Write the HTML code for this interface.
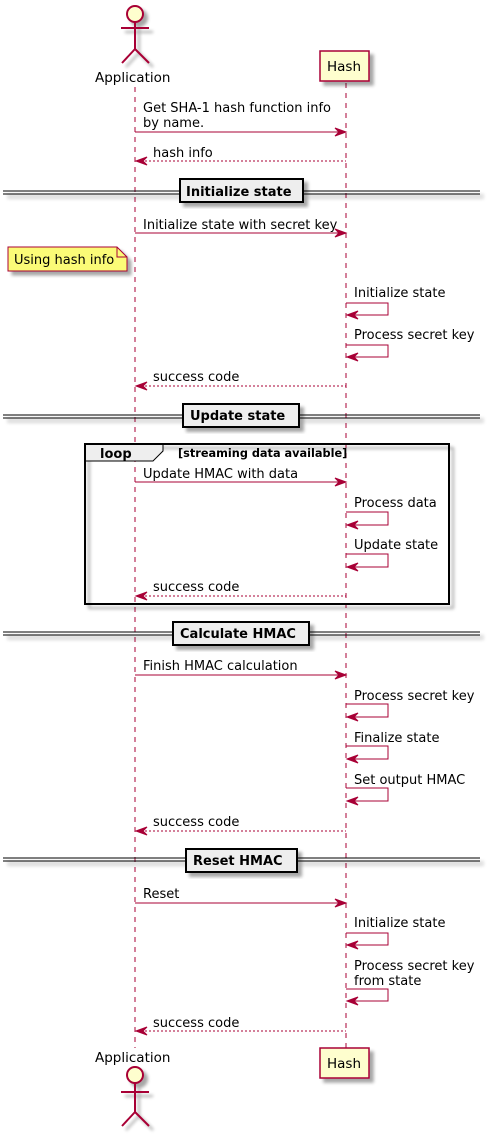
<!DOCTYPE html>
<html><head><meta charset="utf-8"><style>
html,body{margin:0;padding:0;background:#fff;}
svg{display:block;}
text{font-family:"DejaVu Sans","Liberation Sans",sans-serif;font-size:13px;fill:#000;}
.b{font-weight:bold;}
.m{stroke:#A80036;stroke-width:1;fill:none;}
.d{stroke:#A80036;stroke-width:1;fill:none;stroke-dasharray:2,2;}
.ll{stroke:#A80036;stroke-width:1;stroke-dasharray:5,5;}
.ah{fill:#A80036;stroke:#A80036;}
</style></head><body>
<svg width="491" height="1136" viewBox="0 0 491 1136" xmlns="http://www.w3.org/2000/svg">
<defs>
<filter id="sh" x="-20%" y="-20%" width="150%" height="150%"><feGaussianBlur in="SourceAlpha" stdDeviation="1.5"/><feOffset dx="4" dy="4"/><feComponentTransfer><feFuncA type="linear" slope="0.35"/></feComponentTransfer><feMerge><feMergeNode/><feMergeNode in="SourceGraphic"/></feMerge></filter>
</defs>
<line x1="135" y1="87" x2="135" y2="1048" class="ll"/>
<line x1="346" y1="83" x2="346" y2="1048" class="ll"/>

<g filter="url(#sh)" stroke="#A80036" stroke-width="2" fill="none">
<circle cx="135" cy="14" r="8" fill="#FEFECE"/>
<line x1="135" y1="22" x2="135" y2="49"/>
<line x1="121" y1="28" x2="149" y2="28"/>
<line x1="135" y1="49" x2="122" y2="63"/>
<line x1="135" y1="49" x2="149" y2="63"/>
</g>
<text x="95" y="82" style="font-size:13.5px">Application</text>
<rect x="320" y="51" width="49" height="30" fill="#FEFECE" stroke="#A80036" stroke-width="1.5" filter="url(#sh)"/>
<text x="327" y="71" style="font-size:13.5px">Hash</text>

<text x="95" y="1062" style="font-size:13.5px">Application</text>
<g filter="url(#sh)" stroke="#A80036" stroke-width="2" fill="none">
<circle cx="135" cy="1075" r="8" fill="#FEFECE"/>
<line x1="135" y1="1083" x2="135" y2="1112"/>
<line x1="121" y1="1092" x2="149" y2="1092"/>
<line x1="135" y1="1112" x2="122" y2="1126"/>
<line x1="135" y1="1112" x2="149" y2="1126"/>
</g>
<rect x="320" y="1048" width="49" height="30" fill="#FEFECE" stroke="#A80036" stroke-width="1.5" filter="url(#sh)"/>
<text x="327" y="1068" style="font-size:13.5px">Hash</text>

<text x="143" y="112">Get SHA-1 hash function info</text>
<text x="143" y="127">by name.</text>
<line x1="135" y1="132" x2="344" y2="132" class="m"/>
<polygon points="346,132 335,128 339,132 335,136" class="ah"/>
<text x="153" y="157">hash info</text>
<line x1="137" y1="161" x2="346" y2="161" class="d"/>
<polygon points="136,161 147,157 143,161 147,165" class="ah"/>

<g filter="url(#sh)">
<line x1="3" y1="191" x2="480" y2="191" stroke="#000" stroke-width="1"/>
<line x1="3" y1="194" x2="480" y2="194" stroke="#000" stroke-width="1"/>
<rect x="180" y="179" width="123" height="23" fill="#EEEEEE" stroke="#000" stroke-width="2"/>
</g>
<text x="186" y="196" class="b">Initialize state</text>

<text x="143" y="229">Initialize state with secret key</text>
<line x1="135" y1="233" x2="344" y2="233" class="m"/>
<polygon points="346,233 335,229 339,233 335,237" class="ah"/>

<path d="M8,247 L117,247 L127,257 L127,271 L8,271 Z" fill="#FBFB77" stroke="#A80036" stroke-width="1" filter="url(#sh)"/>
<path d="M117,247 L117,257 L127,257" fill="none" stroke="#A80036" stroke-width="1"/>
<text x="14" y="264">Using hash info</text>

<text x="354" y="297">Initialize state</text>
<path d="M346,303 L388,303 L388,315 L347,315" class="m"/>
<polygon points="347,315 358,311 354,315 358,319" class="ah"/>
<text x="354" y="339">Process secret key</text>
<path d="M346,345 L388,345 L388,357 L347,357" class="m"/>
<polygon points="347,357 358,353 354,357 358,361" class="ah"/>
<text x="153" y="381">success code</text>
<line x1="137" y1="386" x2="346" y2="386" class="d"/>
<polygon points="136,386 147,382 143,386 147,390" class="ah"/>

<g filter="url(#sh)">
<line x1="3" y1="415" x2="480" y2="415" stroke="#000" stroke-width="1"/>
<line x1="3" y1="418" x2="480" y2="418" stroke="#000" stroke-width="1"/>
<rect x="183" y="404" width="116" height="23" fill="#EEEEEE" stroke="#000" stroke-width="2"/>
</g>
<text x="190" y="420" class="b">Update state</text>

<rect x="85" y="444" width="364" height="160" fill="none" stroke="#000" stroke-width="2" filter="url(#sh)"/>
<path d="M85,444 L163,444 L163,451 L153,461 L85,461 Z" fill="#EEEEEE" stroke="#000" stroke-width="1"/>
<rect x="85" y="444" width="364" height="160" fill="none" stroke="#000" stroke-width="2"/>
<text x="100" y="458" class="b">loop</text>
<text x="178" y="457" class="b" style="font-size:11.3px">[streaming data available]</text>

<text x="143" y="478">Update HMAC with data</text>
<line x1="135" y1="482" x2="344" y2="482" class="m"/>
<polygon points="346,482 335,478 339,482 335,486" class="ah"/>
<text x="354" y="507">Process data</text>
<path d="M346,512 L388,512 L388,525 L347,525" class="m"/>
<polygon points="347,525 358,521 354,525 358,529" class="ah"/>
<text x="354" y="549">Update state</text>
<path d="M346,554 L388,554 L388,567 L347,567" class="m"/>
<polygon points="347,567 358,563 354,567 358,571" class="ah"/>
<text x="153" y="591">success code</text>
<line x1="137" y1="596" x2="346" y2="596" class="d"/>
<polygon points="136,596 147,592 143,596 147,600" class="ah"/>

<g filter="url(#sh)">
<line x1="3" y1="632" x2="480" y2="632" stroke="#000" stroke-width="1"/>
<line x1="3" y1="635" x2="480" y2="635" stroke="#000" stroke-width="1"/>
<rect x="173" y="622" width="136" height="23" fill="#EEEEEE" stroke="#000" stroke-width="2"/>
</g>
<text x="180" y="638" class="b">Calculate HMAC</text>

<text x="143" y="670">Finish HMAC calculation</text>
<line x1="135" y1="675" x2="344" y2="675" class="m"/>
<polygon points="346,675 335,671 339,675 335,679" class="ah"/>
<text x="354" y="700">Process secret key</text>
<path d="M346,704 L388,704 L388,717 L347,717" class="m"/>
<polygon points="347,717 358,713 354,717 358,721" class="ah"/>
<text x="354" y="742">Finalize state</text>
<path d="M346,746 L388,746 L388,759 L347,759" class="m"/>
<polygon points="347,759 358,755 354,759 358,763" class="ah"/>
<text x="354" y="784">Set output HMAC</text>
<path d="M346,788 L388,788 L388,801 L347,801" class="m"/>
<polygon points="347,801 358,797 354,801 358,805" class="ah"/>
<text x="153" y="826">success code</text>
<line x1="137" y1="831" x2="346" y2="831" class="d"/>
<polygon points="136,831 147,827 143,831 147,835" class="ah"/>

<g filter="url(#sh)">
<line x1="3" y1="858" x2="480" y2="858" stroke="#000" stroke-width="1"/>
<line x1="3" y1="861" x2="480" y2="861" stroke="#000" stroke-width="1"/>
<rect x="186" y="849" width="111" height="23" fill="#EEEEEE" stroke="#000" stroke-width="2"/>
</g>
<text x="193" y="865" class="b">Reset HMAC</text>

<text x="143" y="898">Reset</text>
<line x1="135" y1="903" x2="344" y2="903" class="m"/>
<polygon points="346,903 335,899 339,903 335,907" class="ah"/>
<text x="354" y="927">Initialize state</text>
<path d="M346,933 L388,933 L388,945 L347,945" class="m"/>
<polygon points="347,945 358,941 354,945 358,949" class="ah"/>
<text x="354" y="970">Process secret key</text>
<text x="354" y="985">from state</text>
<path d="M346,989 L388,989 L388,1001 L347,1001" class="m"/>
<polygon points="347,1001 358,997 354,1001 358,1005" class="ah"/>
<text x="153" y="1027">success code</text>
<line x1="137" y1="1031" x2="346" y2="1031" class="d"/>
<polygon points="136,1031 147,1027 143,1031 147,1035" class="ah"/>
</svg>
</body></html>
